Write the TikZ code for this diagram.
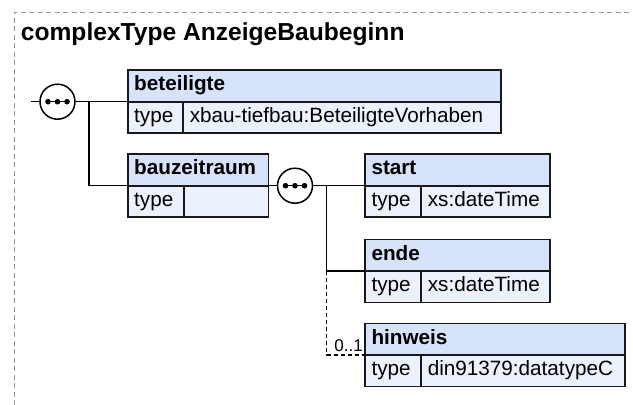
\documentclass[tikz,border=0pt]{standalone}
\usepackage{fontspec}
\setmainfont{Liberation Sans}
\definecolor{hdrfill}{RGB}{214,227,250}
\definecolor{typfill}{RGB}{235,242,253}
\definecolor{frame}{RGB}{150,150,150}
\definecolor{bord}{RGB}{25,25,25}
\tikzset{
  cellbase/.style={draw=bord, line width=1.7pt, rectangle, anchor=north west,
    minimum height=31.5pt, inner xsep=6.5pt, inner ysep=0pt, outer sep=0pt,
    text height=15pt, text depth=5.5pt, font=\fontsize{20.7}{24}\selectfont},
  hdr/.style={cellbase, fill=hdrfill, font=\bfseries\fontsize{20.7}{24}\selectfont},
  typ/.style={cellbase, fill=typfill},
  seqc/.style={circle, draw=black, fill=white, line width=1.5pt, minimum size=35pt, inner sep=0pt, outer sep=0pt},
  ln/.style={draw=black, line width=1.5pt},
  dln/.style={ln, dash pattern=on 4pt off 3pt},
}
\newcommand{\seqdots}[1]{%
  \draw[line width=1.3pt] ([xshift=-12pt]#1.center) -- ([xshift=12pt]#1.center);
  \fill ([xshift=-9.5pt]#1.center) circle (2.8pt);
  \fill (#1.center) circle (2.8pt);
  \fill ([xshift=9.5pt]#1.center) circle (2.8pt);
}
\begin{document}
\begin{tikzpicture}[x=1pt,y=-1pt]
\useasboundingbox (0,0) rectangle (633,405);
% frame
\draw[frame, line width=1pt, dash pattern=on 5pt off 3.5pt] (14,405) -- (14,12.3) -- (633,12.3);
\node[anchor=base west, inner sep=0pt, font=\bfseries\fontsize{24.6}{28}\selectfont] (title) at (20.7,40.5) {complexType AnzeigeBaubeginn};

% beteiligte
\node[hdr, text width=360.3pt] (bet) at (127.7,70.2) {beteiligte};
\node[typ, text width=42.6pt] (bett) at (bet.south west) {type};
\node[typ, text width=304.7pt] (betv) at (bett.north east) {xbau-tiefbau:BeteiligteVorhaben};

% bauzeitraum
\node[hdr, text width=127.8pt] (bau) at (127.7,154.2) {bauzeitraum};
\node[typ, text width=43.6pt] (baut) at (bau.south west) {type};
\node[typ, text width=71.2pt] (bauv) at (baut.north east) {};

% start
\node[hdr, text width=172pt] (sta) at (365,154.2) {start};
\node[typ, text width=43.3pt] (stat) at (sta.south west) {type};
\node[typ, text width=115.7pt] (stav) at (stat.north east) {xs:dateTime};

% ende
\node[hdr, text width=172pt] (ende) at (365,239.5) {ende};
\node[typ, text width=43.3pt] (endt) at (ende.south west) {type};
\node[typ, text width=115.7pt] (endv) at (endt.north east) {xs:dateTime};

% hinweis
\node[hdr, text width=247pt] (hin) at (365,323.5) {hinweis};
\node[typ, text width=43.3pt] (hint) at (hin.south west) {type};
\node[typ, text width=190.7pt] (hinv) at (hint.north east) {din91379:datatypeC};

% sequence compositors
\node[seqc] (s1) at (57.5,101.7) {};
\seqdots{s1}
\node[seqc] (s2) at (295,185.7) {};
\seqdots{s2}

% connectors
\coordinate (st) at (31,101.7);
\coordinate (j1) at (89,101.7);
\coordinate (j2) at (326.7,185.7);
\draw[ln] (st) -- (s1.west);
\draw[ln] (s1.east) -- (bet.south west);
\draw[ln] (j1) |- (bau.south west);
\draw[ln] (bau.south east) -- (s2.west);
\draw[ln] (s2.east) -- (sta.south west);
\draw[ln] (j2) |- (ende.south west);
\draw[dln] (j2 |- ende.south west) |- (hin.south west);
\node[anchor=base east, inner sep=0pt, font=\fontsize{17}{20}\selectfont] (occ) at (363,351.7) {0..1};
\end{tikzpicture}
\end{document}
